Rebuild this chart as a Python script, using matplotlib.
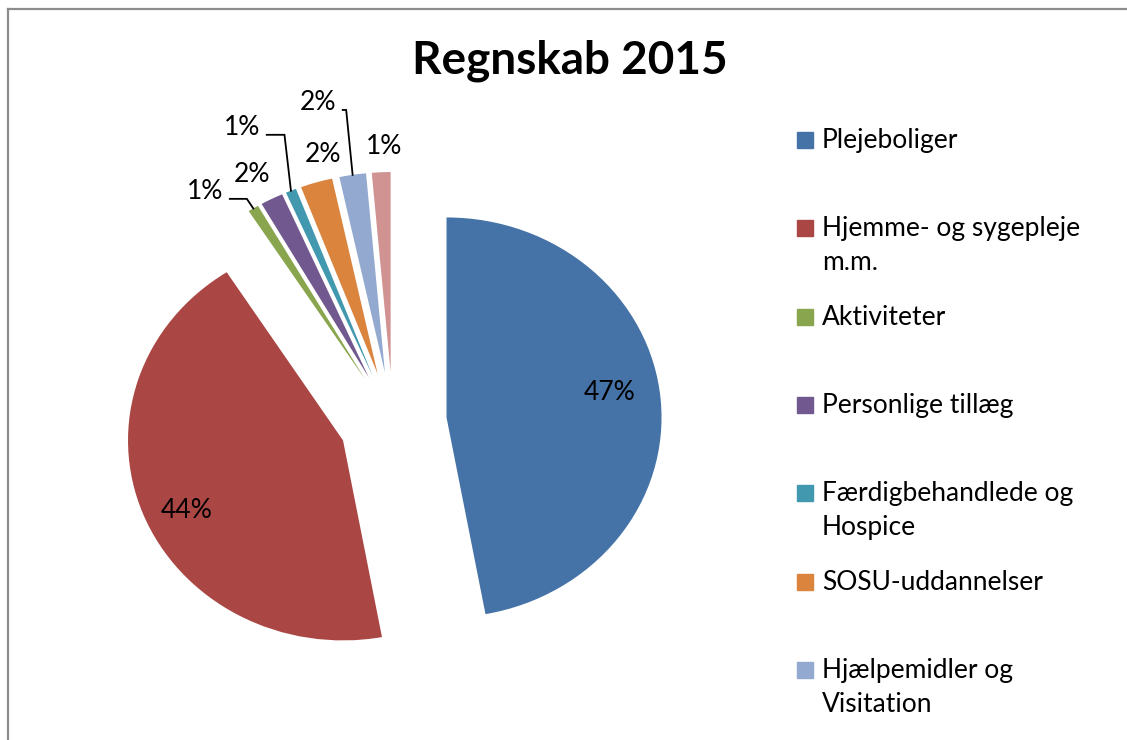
import matplotlib
matplotlib.use('Agg')
import matplotlib.pyplot as plt
from matplotlib.lines import Line2D
from matplotlib.patches import Rectangle
import numpy as np

# data
categories = ['Plejeboliger', 'Hjemme- og sygepleje\nm.m.', 'Aktiviteter',
              'Personlige tillæg', 'Færdigbehandlede og\nHospice',
              'SOSU-uddannelser', 'Hjælpemidler og\nVisitation', 'Øvrige']
shares = [47.1, 43.8, 0.8, 1.7, 0.8, 2.4, 2.0, 1.4]
colors = ['#4572A7', '#AA4643', '#89A54E', '#71588F',
          '#4198AF', '#DB843D', '#93A9CF', '#D19392']

# label placement (radius from pie centre, angle shift from wedge middle)
label_r = [1.02, 1.056, 1.445, 1.40, 1.63, 1.374, 1.633, 1.376]
label_shift = [3.0, 3.3, 5.9, 1.2, 3.2, -2.9, 3.7, -0.8]
leaders = [2, 4, 6]

W, H = 1127, 740
# pie centre in pixels and pixel size of one data unit (picture is a bit stretched)
CX, CY, SX, SY = 393, 422, 215, 200

plt.rcParams['font.family'] = ['Lato', 'DejaVu Sans']

fig = plt.figure(figsize=(W / 100, H / 100), dpi=100)
fig.set_facecolor('white')
ax = fig.add_axes([0, 0, 1, 1])

wedges, _ = ax.pie(shares, colors=colors, startangle=90, counterclock=False,
                   explode=[0.25] * len(shares), radius=1.0,
                   wedgeprops=dict(linewidth=0))
ax.set_aspect('auto')
ax.set_xlim(-CX / SX, (W - CX) / SX)
ax.set_ylim((CY - H) / SY, CY / SY)
ax.axis('off')

total = sum(shares)
for i, w in enumerate(wedges):
    mid = np.deg2rad((w.theta1 + w.theta2) / 2)
    ang = mid + np.deg2rad(label_shift[i])
    lx, ly = label_r[i] * np.cos(ang), label_r[i] * np.sin(ang)
    ax.text(lx, ly, f'{shares[i] / total * 100:.0f}%', ha='center', va='center',
            fontsize=19, color='black')
    if i in leaders:
        tip = (w.center[0] + np.cos(mid), w.center[1] + np.sin(mid))
        sx0 = lx + 0.115
        sy0 = ly - 0.035
        ex = tip[0] - 0.03
        ax.plot([sx0, ex, tip[0]], [sy0, sy0, tip[1]], color='black', lw=1.3,
                solid_joinstyle='miter')

# title
fig.text(570 / W, 1 - 73 / H, 'Regnskab 2015', ha='center', va='baseline',
         fontsize=33, fontweight='bold')

# legend drawn by hand (fixed slots like the original); last slot falls off the page
for i, name in enumerate(categories):
    base = 149 + 88.3 * i
    if base > H:
        continue
    fig.patches.append(Rectangle((797 / W, 1 - (base - 1) / H), 16 / W, 16 / H,
                                 transform=fig.transFigure, color=colors[i]))
    fig.text(822 / W, 1 - (base - 21) / H, name, ha='left', va='top',
             fontsize=19, linespacing=1.45)

# chart frame (top and left edges visible)
fig.add_artist(Line2D([7.5 / W, 1], [1 - 8.5 / H, 1 - 8.5 / H],
                      transform=fig.transFigure, color='#8c8c8c', lw=1.6))
fig.add_artist(Line2D([7.5 / W, 7.5 / W], [0, 1 - 8.5 / H],
                      transform=fig.transFigure, color='#8c8c8c', lw=1.6))

plt.savefig('out.png', dpi=100, facecolor='white')
